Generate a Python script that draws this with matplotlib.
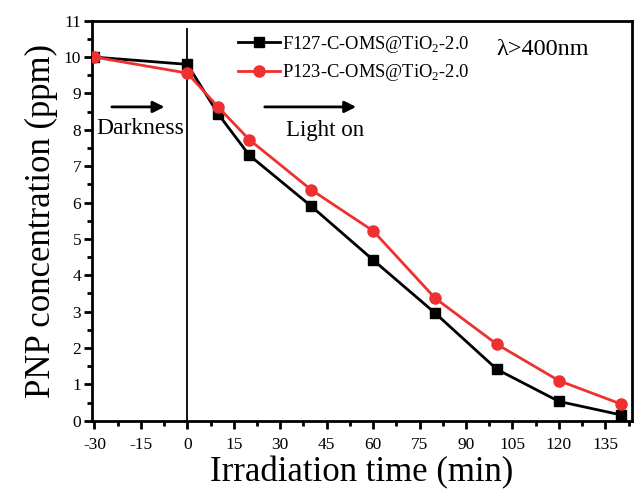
import matplotlib
matplotlib.use("Agg")
import matplotlib.pyplot as plt
from matplotlib.ticker import MultipleLocator

plt.rcParams['font.family'] = ['Liberation Serif', 'DejaVu Serif']
plt.rcParams['mathtext.fontset'] = 'custom'
plt.rcParams['mathtext.rm'] = 'Liberation Serif'
plt.rcParams['axes.unicode_minus'] = False

time_min = [-30, 0, 10, 20, 40, 60, 80, 100, 120, 140]
f127 = [10.0, 9.8, 8.43, 7.3, 5.9, 4.42, 2.96, 1.41, 0.53, 0.16]
p123 = [10.0, 9.56, 8.62, 7.73, 6.35, 5.22, 3.37, 2.1, 1.1, 0.46]
series_labels = ['F127-C-OMS@TiO$_2$-2.0', 'P123-C-OMS@TiO$_2$-2.0']
x_ticks = [-30, -15, 0, 15, 30, 45, 60, 75, 90, 105, 120, 135]
y_ticks = list(range(0, 12))

fig = plt.figure(figsize=(6.35, 4.94), dpi=100)
ax = fig.add_axes([0.1444, 0.1484, 0.9953 - 0.1444, 0.958 - 0.1484])

ax.plot(time_min, f127, color='black', lw=2.0, marker='s', ms=7, label=series_labels[0], zorder=3)
ax.plot(time_min, p123, color='#ee3030', lw=2.0, marker='o', ms=8, label=series_labels[1], zorder=4)

ax.plot([0, 0], [0, 10.77], color='black', lw=1.3, zorder=2)

ax.set_xlim(-30.9, 143.6)
ax.set_ylim(0, 11)
ax.set_xticks(x_ticks)
ax.set_yticks(y_ticks)
ax.xaxis.set_minor_locator(MultipleLocator(7.5))
ax.yaxis.set_minor_locator(MultipleLocator(0.5))
ax.tick_params(which='major', direction='out', length=6, width=2, labelsize=12.5)
ax.tick_params(which='minor', direction='out', length=3.5, width=2)
ax.tick_params(axis='x', which='major', pad=6)
ax.tick_params(axis='y', which='major', pad=1.5)
ax.tick_params(axis='x', which='both', top=False)
ax.tick_params(axis='y', which='both', right=False)
for s in ax.spines.values():
    s.set_linewidth(2)

ax.set_xlabel('Irradiation time (min)', fontsize=25, labelpad=2)
ax.set_ylabel('PNP concentration (ppm)', fontsize=25, labelpad=4)

ax.annotate('', xy=(-6.5, 8.63), xytext=(-25.3, 8.63),
            arrowprops=dict(arrowstyle='-|>', color='black', lw=2, mutation_scale=17))
ax.text(-29.3, 8.05, 'Darkness', fontsize=17, ha='left', va='center')
ax.annotate('', xy=(55.4, 8.63), xytext=(24.1, 8.63),
            arrowprops=dict(arrowstyle='-|>', color='black', lw=2, mutation_scale=17))
ax.text(44.5, 7.98, 'Light on', fontsize=16.5, ha='center', va='center')
ax.text(114.6, 10.2, 'λ>400nm', fontsize=17.5, ha='center', va='center')

ax.legend(loc='upper left', bbox_to_anchor=(0.246, 1.0), frameon=False, fontsize=13.3,
          handlelength=2.3, handletextpad=0.1, labelspacing=0.4, borderaxespad=0.3)

fig.savefig('out.png', dpi=100)
